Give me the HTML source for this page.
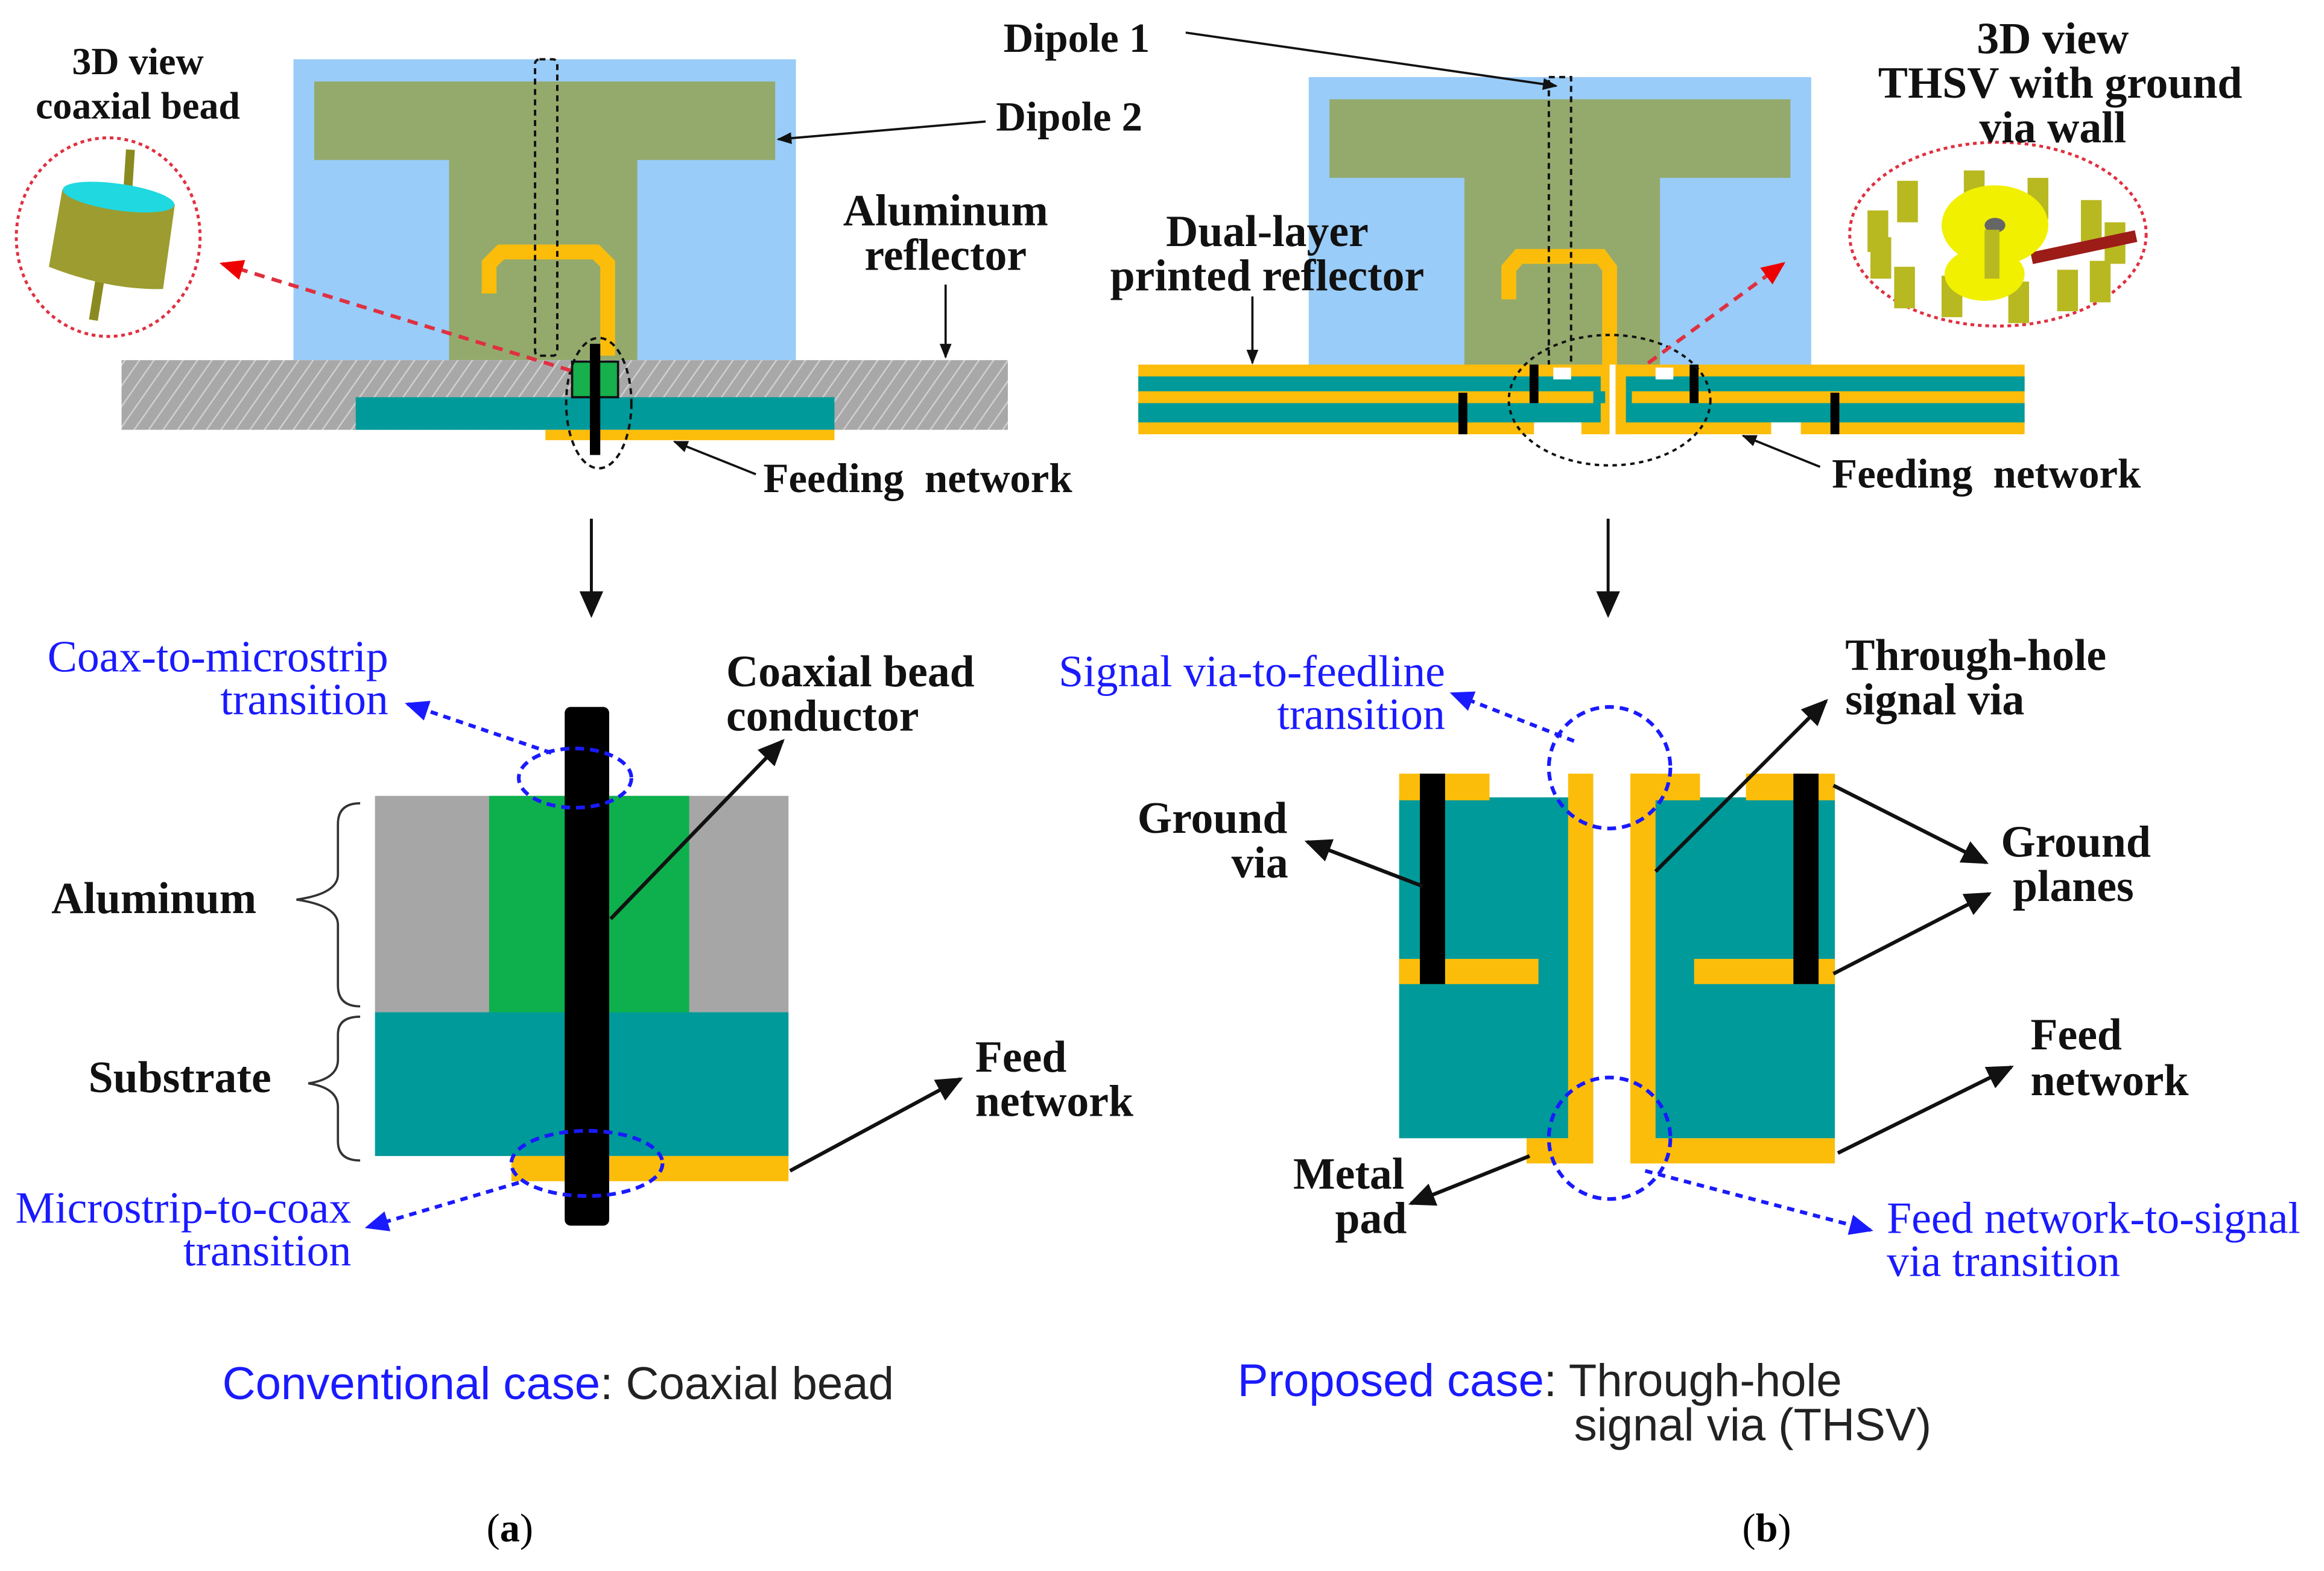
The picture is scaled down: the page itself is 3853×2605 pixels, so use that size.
<!DOCTYPE html>
<html><head><meta charset="utf-8"><style>
html,body{margin:0;padding:0;background:#fff}
svg{display:block}
.b{font-family:"Liberation Serif",serif;font-weight:bold;font-size:30px;fill:#111}
.bl{font-family:"Liberation Serif",serif;font-size:30px;fill:#1a1aff}
.cap{font-family:"Liberation Sans",sans-serif;font-size:31px;fill:#222}
</style></head><body>
<svg width="3853" height="2605" viewBox="0 0 1568 1060" preserveAspectRatio="none" xmlns="http://www.w3.org/2000/svg">
<defs>
<pattern id="h" width="8" height="8" patternUnits="userSpaceOnUse" patternTransform="rotate(35)">
<rect width="8" height="8" fill="#a8a8a8"/><line x1="0" y1="0" x2="0" y2="8" stroke="#d0d0d0" stroke-width="2"/></pattern>
<marker id="ak" markerWidth="10" markerHeight="10" refX="9" refY="5" orient="auto" markerUnits="userSpaceOnUse"><path d="M0,1 L10,5 L0,9z" fill="#111"/></marker>
<marker id="akb" markerWidth="18" markerHeight="16" refX="16" refY="8" orient="auto" markerUnits="userSpaceOnUse"><path d="M0,0 L18,8 L0,16z" fill="#111"/></marker>
<marker id="ar" markerWidth="16" markerHeight="14" refX="14" refY="7" orient="auto" markerUnits="userSpaceOnUse"><path d="M0,0 L16,7 L0,14z" fill="#e00"/></marker>
<marker id="ab" markerWidth="16" markerHeight="14" refX="14" refY="7" orient="auto" markerUnits="userSpaceOnUse"><path d="M0,0 L16,7 L0,14z" fill="#1a1aff"/></marker>
</defs>

<!-- ===== LEFT TOP ===== -->
<rect x="198" y="40" width="339" height="203" fill="#99ccf8"/>
<path d="M212,55 H523 V108 H430 V243 H303 V108 H212Z" fill="#94aa6c"/>
<path d="M330,198 V178 L338,170 H402 L410,178 V240" fill="none" stroke="#fcbd0a" stroke-width="10"/>
<rect x="361" y="40" width="15" height="200" rx="3" fill="none" stroke="#111" stroke-width="1.6" stroke-dasharray="4,3"/>
<rect x="82" y="243" width="598" height="47" fill="url(#h)"/>
<rect x="240" y="268" width="323" height="22" fill="#009a9a"/>
<rect x="368" y="290" width="195" height="7" fill="#fcbd0a"/>
<rect x="386" y="244" width="31" height="24" fill="#16b04c" stroke="#111" stroke-width="1.5"/>
<rect x="398" y="232" width="7" height="75" fill="#000"/>
<ellipse cx="404" cy="272" rx="22" ry="44" fill="none" stroke="#111" stroke-width="1.6" stroke-dasharray="4,3"/>
<ellipse cx="73" cy="160" rx="62" ry="67" fill="none" stroke="#e03040" stroke-width="2" stroke-dasharray="2.5,2.5"/>
<!-- bead -->
<line x1="68" y1="185" x2="63" y2="216" stroke="#8a8a20" stroke-width="6"/>
<line x1="88" y1="101" x2="86" y2="132" stroke="#8a8a20" stroke-width="6"/>
<path d="M42,128 L118,138 L110,195 Q74,196 33,180Z" fill="#9c9c30"/>
<ellipse cx="80" cy="133" rx="38" ry="9" transform="rotate(8 80 133)" fill="#20d8e0"/>
<line x1="385" y1="250" x2="150" y2="178" stroke="#e03040" stroke-width="2.5" stroke-dasharray="7,5" marker-end="url(#ar)"/>
<text class="b" x="93" y="50" text-anchor="middle" style="font-size:26px">3D view</text>
<text class="b" x="93" y="80" text-anchor="middle" style="font-size:26px">coaxial bead</text>
<text class="b" x="672" y="88" style="font-size:28px">Dipole 2</text>
<line x1="665" y1="82" x2="525" y2="94" stroke="#111" stroke-width="1.5" marker-end="url(#ak)"/>
<text class="b" x="638" y="152" text-anchor="middle">Aluminum</text>
<text class="b" x="638" y="182" text-anchor="middle">reflector</text>
<line x1="638" y1="192" x2="638" y2="241" stroke="#111" stroke-width="1.5" marker-end="url(#ak)"/>
<text class="b" x="515" y="332" style="font-size:28px;white-space:pre" xml:space="preserve">Feeding  network</text>
<line x1="510" y1="320" x2="455" y2="298" stroke="#111" stroke-width="1.5" marker-end="url(#ak)"/>
<line x1="399" y1="350" x2="399" y2="415" stroke="#111" stroke-width="2" marker-end="url(#akb)"/>

<!-- ===== LEFT BOTTOM ===== -->
<rect x="253" y="537" width="279" height="146" fill="#a6a6a6"/>
<rect x="330" y="537" width="135" height="146" fill="#0db04c"/>
<rect x="253" y="683" width="279" height="97" fill="#009a9a"/>
<rect x="345" y="780" width="187" height="17" fill="#fcbd0a"/>
<rect x="381" y="477" width="30" height="350" rx="4" fill="#000"/>
<ellipse cx="388" cy="525" rx="38" ry="20" fill="none" stroke="#1a1aff" stroke-width="2.5" stroke-dasharray="6,4"/>
<ellipse cx="396" cy="785" rx="51" ry="22" fill="none" stroke="#1a1aff" stroke-width="2.5" stroke-dasharray="6,4"/>
<text class="bl" x="262" y="453" text-anchor="end">Coax-to-microstrip</text>
<text class="bl" x="262" y="482" text-anchor="end">transition</text>
<line x1="372" y1="508" x2="275" y2="475" stroke="#1a1aff" stroke-width="2.5" stroke-dasharray="5,4" marker-end="url(#ab)"/>
<text class="b" x="490" y="463">Coaxial bead</text>
<text class="b" x="490" y="493">conductor</text>
<line x1="412" y1="620" x2="528" y2="500" stroke="#111" stroke-width="2.5" marker-end="url(#akb)"/>
<text class="b" x="173" y="616" text-anchor="end">Aluminum</text>
<text class="b" x="183" y="737" text-anchor="end">Substrate</text>
<path d="M243,542 Q228,542 228,556 V590 Q228,603 200,607 Q228,611 228,624 V665 Q228,679 243,679" fill="none" stroke="#333" stroke-width="1.5"/>
<path d="M243,686 Q228,686 228,698 V715 Q228,728 208,731 Q228,734 228,747 V770 Q228,783 243,783" fill="none" stroke="#333" stroke-width="1.5"/>
<text class="b" x="658" y="723">Feed</text>
<text class="b" x="658" y="753">network</text>
<line x1="533" y1="790" x2="648" y2="728" stroke="#111" stroke-width="2.5" marker-end="url(#akb)"/>
<text class="bl" x="237" y="825" text-anchor="end">Microstrip-to-coax</text>
<text class="bl" x="237" y="854" text-anchor="end">transition</text>
<line x1="350" y1="798" x2="248" y2="828" stroke="#1a1aff" stroke-width="2.5" stroke-dasharray="5,4" marker-end="url(#ab)"/>
<text class="cap" x="150" y="944"><tspan fill="#1a1aff">Conventional case</tspan>: Coaxial bead</text>
<text x="344" y="1040" text-anchor="middle" style="font-family:'Liberation Serif',serif;font-size:27px">(<tspan font-weight="bold">a</tspan>)</text>

<!-- ===== RIGHT TOP ===== -->
<rect x="883" y="52" width="339" height="196" fill="#99ccf8"/>
<path d="M897,67 H1208 V120 H1120 V248 H988 V120 H897Z" fill="#94aa6c"/>
<path d="M1018,202 V181 L1025,173 H1080 L1086,181 V248" fill="none" stroke="#fcbd0a" stroke-width="10"/>
<rect x="1045" y="52" width="15" height="198" fill="none" stroke="#111" stroke-width="1.6" stroke-dasharray="4,3"/>
<g>
<rect x="768" y="246" width="598" height="47" fill="#fcbd0a"/>
<rect x="768" y="254" width="598" height="10" fill="#009a9a"/>
<rect x="768" y="272" width="598" height="13" fill="#009a9a"/>
<rect x="1080" y="246" width="17" height="47" fill="#fcbd0a"/>
<rect x="1086" y="246" width="4" height="47" fill="#fff"/>
<rect x="1075" y="264" width="8" height="8" fill="#009a9a"/>
<rect x="1097" y="264" width="4" height="8" fill="#009a9a"/>
<rect x="1048" y="248" width="12" height="8" fill="#fff"/>
<rect x="1117" y="248" width="12" height="8" fill="#fff"/>
<rect x="1035" y="285" width="32" height="8" fill="#fff"/>
<rect x="1195" y="285" width="20" height="8" fill="#fff"/>
<rect x="984" y="265" width="6" height="28" fill="#000"/>
<rect x="1235" y="265" width="6" height="28" fill="#000"/>
<rect x="1032" y="246" width="6" height="26" fill="#000"/>
<rect x="1140" y="246" width="6" height="26" fill="#000"/>
</g>
<ellipse cx="1086" cy="270" rx="68" ry="44" fill="none" stroke="#111" stroke-width="1.6" stroke-dasharray="3,3"/>
<ellipse cx="1348" cy="158" rx="100" ry="62" fill="none" stroke="#e03040" stroke-width="2" stroke-dasharray="2.5,2.5"/>
<!-- via wall -->
<g fill="#b8b820">
<rect x="1260" y="142" width="14" height="28"/><rect x="1280" y="122" width="14" height="28"/>
<rect x="1325" y="115" width="14" height="28"/><rect x="1368" y="120" width="14" height="28"/>
<rect x="1404" y="135" width="14" height="28"/><rect x="1420" y="150" width="14" height="28"/>
<rect x="1262" y="160" width="14" height="28"/><rect x="1278" y="180" width="14" height="28"/>
<rect x="1310" y="186" width="14" height="28"/><rect x="1355" y="190" width="14" height="28"/>
<rect x="1388" y="182" width="14" height="28"/><rect x="1410" y="176" width="14" height="28"/>
</g>
<rect x="1370" y="163" width="72" height="8" fill="#9c1c18" transform="rotate(-12 1405 167)"/>
<ellipse cx="1339" cy="185" rx="27" ry="18" fill="#f0f000"/>
<ellipse cx="1346" cy="152" rx="36" ry="27" fill="#f0f000"/>
<ellipse cx="1346" cy="152" rx="7" ry="5" fill="#666"/>
<rect x="1339" y="155" width="10" height="33" fill="#b8b820"/>
<line x1="1112" y1="245" x2="1203" y2="178" stroke="#e03040" stroke-width="2.5" stroke-dasharray="7,5" marker-end="url(#ar)"/>
<text class="b" x="677" y="35" style="font-size:28px">Dipole 1</text>
<line x1="800" y1="22" x2="1050" y2="58" stroke="#111" stroke-width="1.5" marker-end="url(#ak)"/>
<text class="b" x="1385" y="36" text-anchor="middle">3D view</text>
<text class="b" x="1390" y="66" text-anchor="middle">THSV with ground</text>
<text class="b" x="1385" y="96" text-anchor="middle">via wall</text>
<text class="b" x="855" y="166" text-anchor="middle">Dual-layer</text>
<text class="b" x="855" y="196" text-anchor="middle">printed reflector</text>
<line x1="845" y1="200" x2="845" y2="245" stroke="#111" stroke-width="1.5" marker-end="url(#ak)"/>
<text class="b" x="1236" y="329" style="font-size:28px;white-space:pre" xml:space="preserve">Feeding  network</text>
<line x1="1228" y1="315" x2="1176" y2="294" stroke="#111" stroke-width="1.5" marker-end="url(#ak)"/>
<line x1="1085" y1="350" x2="1085" y2="415" stroke="#111" stroke-width="2" marker-end="url(#akb)"/>

<!-- ===== RIGHT BOTTOM ===== -->
<rect x="944" y="538" width="294" height="230" fill="#009a9a"/>
<rect x="944" y="522" width="61" height="18" fill="#fcbd0a"/>
<rect x="1100" y="522" width="47" height="18" fill="#fcbd0a"/>
<rect x="1178" y="522" width="60" height="18" fill="#fcbd0a"/>
<rect x="1058" y="522" width="17" height="263" fill="#fcbd0a"/>
<rect x="1100" y="522" width="17" height="263" fill="#fcbd0a"/>
<rect x="1075" y="522" width="25" height="263" fill="#fff"/>
<rect x="944" y="647" width="94" height="17" fill="#fcbd0a"/>
<rect x="1143" y="647" width="95" height="17" fill="#fcbd0a"/>
<rect x="1030" y="768" width="45" height="17" fill="#fcbd0a"/>
<rect x="1100" y="768" width="138" height="17" fill="#fcbd0a"/>
<rect x="958" y="522" width="17" height="142" fill="#000"/>
<rect x="1210" y="522" width="17" height="142" fill="#000"/>
<circle cx="1086" cy="518" r="41" fill="none" stroke="#1a1aff" stroke-width="2.5" stroke-dasharray="6,4"/>
<circle cx="1086" cy="768" r="41" fill="none" stroke="#1a1aff" stroke-width="2.5" stroke-dasharray="6,4"/>
<text class="bl" x="975" y="463" text-anchor="end">Signal via-to-feedline</text>
<text class="bl" x="975" y="492" text-anchor="end">transition</text>
<line x1="1062" y1="500" x2="980" y2="468" stroke="#1a1aff" stroke-width="2.5" stroke-dasharray="5,4" marker-end="url(#ab)"/>
<text class="b" x="1245" y="452">Through-hole</text>
<text class="b" x="1245" y="482">signal via</text>
<line x1="1117" y1="588" x2="1232" y2="473" stroke="#111" stroke-width="2.5" marker-end="url(#akb)"/>
<text class="b" x="818" y="562" text-anchor="middle">Ground</text>
<text class="b" x="850" y="592" text-anchor="middle">via</text>
<line x1="960" y1="598" x2="882" y2="568" stroke="#111" stroke-width="2.5" marker-end="url(#akb)"/>
<text class="b" x="1350" y="578">Ground</text>
<text class="b" x="1358" y="608">planes</text>
<line x1="1237" y1="530" x2="1340" y2="582" stroke="#111" stroke-width="2.5" marker-end="url(#akb)"/>
<line x1="1237" y1="657" x2="1342" y2="603" stroke="#111" stroke-width="2.5" marker-end="url(#akb)"/>
<text class="b" x="1370" y="708">Feed</text>
<text class="b" x="1370" y="739">network</text>
<line x1="1240" y1="778" x2="1357" y2="720" stroke="#111" stroke-width="2.5" marker-end="url(#akb)"/>
<text class="b" x="910" y="802" text-anchor="middle">Metal</text>
<text class="b" x="925" y="832" text-anchor="middle">pad</text>
<line x1="1032" y1="780" x2="952" y2="812" stroke="#111" stroke-width="2.5" marker-end="url(#akb)"/>
<text class="bl" x="1273" y="832">Feed network-to-signal</text>
<text class="bl" x="1273" y="861">via transition</text>
<line x1="1110" y1="790" x2="1262" y2="830" stroke="#1a1aff" stroke-width="2.5" stroke-dasharray="5,4" marker-end="url(#ab)"/>
<text class="cap" x="835" y="942"><tspan fill="#1a1aff">Proposed case</tspan>: Through-hole</text>
<text class="cap" x="1062" y="972">signal via (THSV)</text>
<text x="1192" y="1040" text-anchor="middle" style="font-family:'Liberation Serif',serif;font-size:27px">(<tspan font-weight="bold">b</tspan>)</text>
</svg>
</body></html>
